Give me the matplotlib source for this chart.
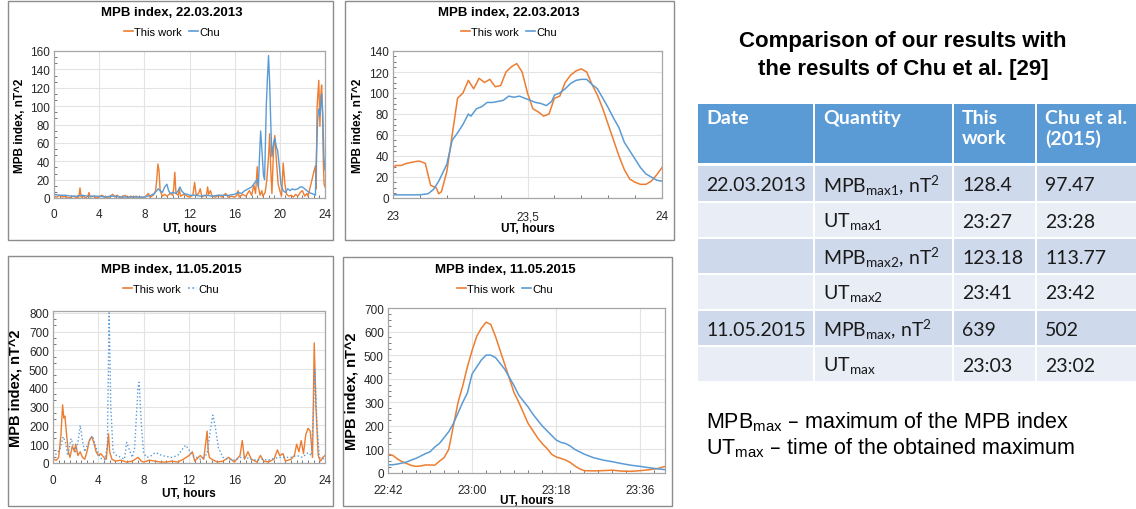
import matplotlib
matplotlib.use("Agg")
import matplotlib.pyplot as plt
from matplotlib.patches import Rectangle
from matplotlib.ticker import MultipleLocator, FuncFormatter, FixedLocator
from matplotlib.lines import Line2D

plt.rcParams['font.family'] = ['Liberation Sans', 'DejaVu Sans']

ORANGE = '#ED7D31'
BLUE = '#5B9BD5'

# ---------------- data ----------------
# Panel 1: 22.03.2013, full day (hours)
p1_this_t = [0.0, 0.25, 0.5, 0.75, 1.0, 1.25, 1.5, 1.75, 2.0, 2.2, 2.3, 2.4, 2.6, 2.8, 3.0, 3.1, 3.2, 3.5, 3.75, 4.0,
             4.25, 4.5, 4.75, 5.0, 5.2, 5.4, 5.6, 5.8, 6.0, 6.3, 6.5, 6.8, 7.0, 7.3, 7.5, 7.8, 8.0, 8.2, 8.35, 8.5,
             8.8, 9.0, 9.1, 9.2, 9.3, 9.4, 9.6, 9.8, 10.0, 10.3, 10.5, 10.6, 10.7, 10.8, 11.0, 11.1, 11.2, 11.5, 11.8,
             12.0, 12.3, 12.45, 12.6, 12.8, 12.95, 13.1, 13.3, 13.5, 13.6, 13.7, 13.85, 14.0, 14.3, 14.6, 14.9, 15.2,
             15.4, 15.7, 16.0, 16.2, 16.3, 16.4, 16.7, 17.0, 17.3, 17.5, 17.7, 17.85, 18.0, 18.1, 18.25, 18.4, 18.5,
             18.7, 18.85, 19.0, 19.1, 19.2, 19.3, 19.45, 19.55, 19.7, 19.85, 20.0, 20.15, 20.3, 20.45, 20.6, 20.8,
             21.0, 21.2, 21.4, 21.6, 21.8, 22.0, 22.2, 22.4, 22.5, 22.7, 22.85, 23.0, 23.15, 23.22, 23.3, 23.38,
             23.45, 23.55, 23.62, 23.7, 23.78, 23.85, 23.92, 24.0]
p1_this_v = [2, 1, 3, 1, 2, 0, 1, 2, 0, 1, 11, 1, 2, 0, 2, 6, 1, 2, 0, 1,
             3, 1, 0, 2, 4, 1, 3, 0, 1, 3, 0, 2, 1, 2, 0, 1, 0, 3, 5, 1,
             3, 8, 20, 37, 30, 8, 2, 4, 2, 5, 3, 10, 28, 5, 3, 10, 2, 4, 2,
             1, 3, 17, 3, 5, 10, 1, 3, 2, 12, 4, 8, 2, 1, 3, 1, 5,
             1, 2, 1, 3, 8, 1, 4, 2, 8, 3, 14, 5, 34, 12, 3, 8, 2,
             6, 20, 45, 70, 30, 5, 55, 68, 40, 15, 8, 2, 38, 15, 4, 2,
             3, 1, 4, 2, 6, 8, 2, 5, 2, 12, 20, 28, 35, 10, 100,
             115, 128, 78, 110, 123, 95, 40, 15, 12]
p1_chu_t = [0.0, 0.5, 1.0, 1.5, 2.0, 2.5, 3.0, 3.5, 4.0, 4.5, 5.0, 5.5, 6.0, 6.5, 7.0, 7.5, 8.0, 8.3, 8.6, 8.9,
            9.1, 9.25, 9.4, 9.6, 9.8, 10.0, 10.15, 10.3, 10.5, 10.8, 11.0, 11.15, 11.3, 11.5, 11.8, 12.0, 12.5,
            13.0, 13.5, 14.0, 14.5, 15.0, 15.5, 16.0, 16.3, 16.6, 16.9, 17.2, 17.5, 17.8, 18.0, 18.1, 18.2, 18.3,
            18.4, 18.55, 18.65, 18.8, 18.9, 19.0, 19.1, 19.2, 19.3, 19.45, 19.55, 19.7, 19.8, 19.95, 20.1, 20.3,
            20.5, 20.7, 20.9, 21.1, 21.3, 21.6, 21.8, 22.0, 22.2, 22.4, 22.6, 22.8, 23.0, 23.15, 23.25, 23.35,
            23.45, 23.55, 23.65, 23.7, 23.8, 23.9, 24.0]
p1_chu_v = [4, 3, 3, 2, 2, 3, 2, 2, 2, 1, 2, 2, 1, 1, 1, 1, 1, 2, 3, 5,
            8, 10, 8, 6, 12, 15, 8, 5, 6, 5, 8, 12, 8, 5, 4, 3, 3,
            2, 3, 2, 3, 3, 3, 4, 6, 5, 8, 10, 12, 17, 20, 12, 45, 73,
            55, 25, 20, 100, 130, 155, 125, 80, 45, 60, 65, 55, 52, 35, 15, 8,
            6, 10, 8, 10, 9, 10, 12, 12, 10, 8, 6, 5, 4, 3, 50, 85,
            97, 90, 105, 113, 90, 45, 30]

# Panel 2: 22.03.2013, 23-24 UT (hours)
p2_this_t = [23.00, 23.01, 23.03, 23.05, 23.07, 23.09, 23.10, 23.12, 23.14, 23.16, 23.17, 23.18, 23.20, 23.22,
             23.24, 23.26, 23.28, 23.30, 23.32, 23.34, 23.36, 23.38, 23.40, 23.42, 23.44, 23.46, 23.48, 23.50,
             23.52, 23.54, 23.56, 23.58, 23.60, 23.62, 23.64, 23.66, 23.68, 23.70, 23.72, 23.74, 23.76, 23.78,
             23.80, 23.82, 23.84, 23.86, 23.88, 23.90, 23.92, 23.94, 23.96, 23.98, 24.00]
p2_this_v = [28, 31, 31, 33, 34, 35, 35, 33, 12, 10, 4, 6, 25, 60,
             95, 100, 112, 104, 114, 110, 113, 106, 107, 120, 125, 128, 120, 100,
             85, 82, 78, 80, 95, 97, 110, 117, 121, 123, 120, 108, 98, 85,
             70, 55, 40, 27, 18, 15, 13, 13, 16, 22, 29]
p2_chu_t = [23.00, 23.05, 23.10, 23.13, 23.15, 23.17, 23.20, 23.22, 23.24, 23.26, 23.28, 23.29, 23.31, 23.33,
            23.35, 23.37, 23.39, 23.41, 23.43, 23.45, 23.47, 23.49, 23.51, 23.53, 23.55, 23.57, 23.59, 23.60,
            23.62, 23.64, 23.66, 23.68, 23.70, 23.72, 23.74, 23.76, 23.78, 23.80, 23.82, 23.84, 23.86, 23.88,
            23.90, 23.92, 23.94, 23.96, 23.98, 24.00]
p2_chu_v = [3, 3, 3, 4, 8, 16, 32, 55, 62, 70, 80, 78, 85, 87,
            91, 91, 92, 93, 97, 96, 97, 95, 93, 91, 90, 88, 92, 98,
            100, 104, 109, 112, 113, 113, 108, 104, 95, 86, 76, 67, 53, 45,
            37, 29, 23, 20, 17, 16]

# Panel 3: 11.05.2015, full day (hours)
p3_this_t = [0.0, 0.3, 0.5, 0.7, 0.85, 0.95, 1.05, 1.2, 1.35, 1.5, 1.7, 1.9, 2.0, 2.2, 2.4, 2.6, 2.8, 3.0, 3.2,
             3.4, 3.6, 3.8, 4.0, 4.2, 4.5, 4.7, 4.9, 5.0, 5.2, 5.5, 6.0, 6.5, 7.0, 7.5, 7.8, 8.0, 8.5, 9.0, 9.5,
             10.0, 10.5, 11.0, 11.5, 12.0, 12.3, 12.5, 13.0, 13.3, 13.6, 13.7, 13.8, 14.0, 14.5, 15.0, 15.5,
             16.0, 16.5, 16.7, 16.9, 17.2, 17.5, 18.0, 18.3, 18.6, 19.0, 19.5, 19.8, 20.0, 20.3, 20.5, 21.0,
             21.3, 21.5, 21.7, 21.9, 22.1, 22.3, 22.5, 22.7, 22.9, 23.05, 23.2, 23.4, 23.6, 23.8, 24.0]
p3_this_v = [20, 15, 30, 150, 310, 240, 250, 150, 60, 30, 90, 60, 100, 40, 60, 30, 20, 60, 120,
             140, 110, 60, 40, 50, 30, 20, 155, 60, 20, 10, 15, 5, 10, 30, 10, 5, 15, 10, 5,
             5, 10, 5, 20, 40, 60, 10, 40, 20, 170, 60, 30, 20, 5, 10, 30,
             5, 40, 120, 20, 60, 20, 5, 40, 10, 5, 20, 70, 40, 50, 10, 20,
             40, 100, 60, 120, 50, 150, 185, 170, 30, 640, 300, 40, 10, 30, 40]
p3_chu_t = [0.0, 0.3, 0.6, 0.9, 1.1, 1.3, 1.6, 1.8, 2.0, 2.2, 2.4, 2.6, 2.8, 3.0, 3.3, 3.5, 3.7, 4.0, 4.3, 4.6,
            4.8, 4.95, 5.1, 5.3, 5.6, 6.0, 6.3, 6.5, 6.8, 7.0, 7.2, 7.5, 7.6, 7.8, 8.0, 8.3, 8.7, 9.0, 9.3, 9.6,
            10.0, 10.5, 11.0, 11.5, 11.7, 12.0, 12.3, 12.7, 13.0, 13.3, 13.6, 13.9, 14.1, 14.3, 14.6, 15.0,
            15.5, 16.0, 16.5, 17.0, 17.5, 18.0, 18.5, 19.0, 19.5, 20.0, 20.5, 21.0, 21.5, 22.0, 22.5, 22.8,
            23.0, 23.1, 23.3, 23.5, 24.0]
p3_chu_v = [30, 50, 70, 140, 110, 40, 130, 90, 60, 110, 200, 120, 60, 90, 130, 145, 100, 50, 20, 20,
            100, 800, 300, 60, 40, 30, 20, 110, 60, 30, 80, 400, 430, 200, 50, 30, 40, 55, 50, 40,
            35, 30, 40, 80, 95, 70, 40, 30, 20, 30, 50, 180, 255, 200, 80, 30,
            20, 15, 30, 30, 20, 15, 20, 15, 25, 30, 30, 30, 40, 30, 55, 40,
            300, 500, 200, 30, 20]

# Panel 4: 11.05.2015, minutes after 22:00
p4_this_m = [42, 43, 44, 45, 46, 47, 48, 49, 50, 51, 52, 53, 54, 55, 56, 57, 58, 59, 60, 61, 62, 63, 64, 65, 66,
             67, 68, 69, 70, 71, 72, 73, 74, 75, 76, 77, 78, 79, 80, 81, 82, 83, 84, 86, 88, 90, 92, 94, 96, 98,
             100, 101.3]
p4_this_v = [80, 75, 60, 48, 40, 32, 28, 30, 34, 34, 33, 50, 65, 100, 200, 300, 370, 450, 520, 580, 615, 640,
             630, 580, 520, 460, 400, 340, 300, 255, 210, 180, 150, 125, 105, 80, 68, 62, 55, 45, 30, 18, 10,
             9, 10, 12, 8, 7, 10, 14, 20, 28]
p4_chu_m = [42, 43, 44, 45, 46, 47, 48, 49, 50, 51, 52, 53, 54, 55, 56, 57, 58, 59, 60, 61, 62, 63, 64, 65, 66,
            67, 68, 69, 70, 71, 72, 73, 74, 75, 76, 77, 78, 79, 80, 81, 82, 84, 86, 88, 90, 92, 94, 96, 98, 100,
            101.3]
p4_chu_v = [35, 35, 38, 42, 47, 55, 62, 72, 82, 90, 110, 125, 150, 175, 210, 255, 300, 340, 420, 450, 480, 500,
            500, 490, 465, 440, 405, 370, 330, 305, 280, 250, 225, 200, 180, 160, 140, 130, 125, 115, 100, 80,
            65, 55, 48, 40, 33, 28, 22, 17, 14]

# Table
tbl_header = ['Date', 'Quantity', 'This\nwork', 'Chu et al.\n(2015)']
tbl_date = ['22.03.2013', '', '', '', '11.05.2015', '']
tbl_qty = [r'MPB$\mathregular{_{max1}}$, nT$\mathregular{^{2}}$', r'UT$\mathregular{_{max1}}$',
           r'MPB$\mathregular{_{max2}}$, nT$\mathregular{^{2}}$', r'UT$\mathregular{_{max2}}$',
           r'MPB$\mathregular{_{max}}$, nT$\mathregular{^{2}}$', r'UT$\mathregular{_{max}}$']
tbl_this = ['128.4', '23:27', '123.18', '23:41', '639', '23:03']
tbl_chu = ['97.47', '23:28', '113.77', '23:42', '502', '23:02']

# ---------------- figure ----------------
W, H = 1136, 510
fig = plt.figure(figsize=(W / 100, H / 100), dpi=100)


def fx(px):
    return px / W


def fy(py):
    return 1 - py / H


def add_ax(x0, y0, x1, y1):
    return fig.add_axes([fx(x0), fy(y1), (x1 - x0) / W, (y1 - y0) / H])


def frame(x0, y0, x1, y1):
    fig.add_artist(Rectangle((fx(x0), fy(y1)), (x1 - x0) / W, (y1 - y0) / H, transform=fig.transFigure,
                             facecolor='none', edgecolor='#8c8c8c', lw=1.0))


def style(ax, xpad=7):
    for s in ax.spines.values():
        s.set_color('#a6a6a6')
        s.set_linewidth(0.9)
    ax.grid(True, which='major', color='#e3e3e3', lw=0.8)
    ax.set_axisbelow(True)
    ax.tick_params(which='major', length=0, labelsize=8.5, colors='#262626', pad=3)
    ax.tick_params(axis='x', which='major', pad=xpad)
    ax.tick_params(which='minor', length=2.5, direction='in', color='#606060', width=0.6)


def panel_text(xc, y_title, y_leg, title, ax, x_ylab, y_xlab, chu_ls='-', ylab_fs=8.5):
    fig.text(fx(xc), fy(y_title), title, ha='center', va='center', fontsize=9.5, fontweight='bold')
    handles = [Line2D([], [], color=ORANGE, lw=1.2), Line2D([], [], color=BLUE, lw=1.2, ls=chu_ls)]
    fig.legend(handles, ['This work', 'Chu'], loc='center', bbox_to_anchor=(fx(xc), fy(y_leg)), ncol=2,
               frameon=False, fontsize=8, handlelength=0.8, handletextpad=0.1, columnspacing=0.6,
               borderpad=0, borderaxespad=0)
    bb = ax.get_position()
    fig.text(fx(x_ylab), (bb.y0 + bb.y1) / 2, 'MPB index, nT^2', rotation=90, ha='center', va='center',
             fontsize=ylab_fs, fontweight='bold')
    fig.text((bb.x0 + bb.x1) / 2, fy(y_xlab), 'UT, hours', ha='center', va='center', fontsize=8.5,
             fontweight='bold')


# Panel 1
frame(8, 2, 333, 241)
ax1 = add_ax(54, 52, 325, 199)
ax1.plot(p1_this_t, p1_this_v, color=ORANGE, lw=1.0)
ax1.plot(p1_chu_t, p1_chu_v, color=BLUE, lw=1.0)
ax1.set_xlim(0, 24)
ax1.set_ylim(0, 160)
ax1.xaxis.set_major_locator(MultipleLocator(4))
ax1.yaxis.set_major_locator(MultipleLocator(20))
ax1.xaxis.set_minor_locator(MultipleLocator(0.5))
ax1.yaxis.set_minor_locator(MultipleLocator(20 / 3))
style(ax1)
panel_text(172, 13, 33, 'MPB index, 22.03.2013', ax1, 20, 229)

# Panel 2
frame(345, 2, 674, 241)
ax2 = add_ax(393, 52, 662, 199)
ax2.plot(p2_this_t, p2_this_v, color=ORANGE, lw=1.1)
ax2.plot(p2_chu_t, p2_chu_v, color=BLUE, lw=1.1)
ax2.set_xlim(23, 24)
ax2.set_ylim(0, 140)
ax2.xaxis.set_major_locator(FixedLocator([23, 23.5, 24]))
ax2.xaxis.set_major_formatter(FuncFormatter(lambda v, p: ('%g' % v).replace('.', ',')))
ax2.yaxis.set_major_locator(MultipleLocator(20))
ax2.xaxis.set_minor_locator(MultipleLocator(0.1))
ax2.yaxis.set_minor_locator(MultipleLocator(5))
style(ax2, xpad=9)
panel_text(509, 13, 33, 'MPB index, 22.03.2013', ax2, 358, 229)

# Panel 3
frame(8, 257, 333, 507)
ax3 = add_ax(53, 312, 325, 464)
ax3.plot(p3_this_t, p3_this_v, color=ORANGE, lw=1.0)
ax3.plot(p3_chu_t, p3_chu_v, color=BLUE, lw=1.0, ls=':')
ax3.set_xlim(0, 24)
ax3.set_ylim(0, 810)
ax3.xaxis.set_major_locator(MultipleLocator(4))
ax3.yaxis.set_major_locator(MultipleLocator(100))
ax3.xaxis.set_minor_locator(MultipleLocator(0.5))
ax3.yaxis.set_minor_locator(MultipleLocator(100 / 3))
style(ax3, xpad=8)
panel_text(171, 270, 290, 'MPB index, 11.05.2015', ax3, 16, 494, chu_ls=':', ylab_fs=10.5)

# Panel 4
frame(343, 258, 672, 507)
ax4 = add_ax(388, 309, 665, 474)
ax4.plot(p4_this_m, p4_this_v, color=ORANGE, lw=1.1)
ax4.plot(p4_chu_m, p4_chu_v, color=BLUE, lw=1.1)
ax4.set_xlim(42, 101.3)
ax4.set_ylim(0, 700)
ax4.xaxis.set_major_locator(FixedLocator([42, 60, 78, 96]))
ax4.xaxis.set_major_formatter(FuncFormatter(lambda v, p: '%d:%02d' % (22 + int(round(v)) // 60, int(round(v)) % 60)))
ax4.yaxis.set_major_locator(MultipleLocator(100))
ax4.xaxis.set_minor_locator(MultipleLocator(3))
ax4.yaxis.set_minor_locator(MultipleLocator(25))
style(ax4, xpad=8)
panel_text(505, 270, 290, 'MPB index, 11.05.2015', ax4, 352, 501, ylab_fs=10.5)

# ---------------- right side: title, table, notes ----------------
fig.text(fx(903), fy(41), 'Comparison of our results with', ha='center', va='center', fontsize=16,
         fontweight='bold')
fig.text(fx(903), fy(69), 'the results of Chu et al. [29]', ha='center', va='center', fontsize=16,
         fontweight='bold')

col_edges = [697, 814, 953, 1036, 1137]
row_edges = [(105, 164), (167, 202), (204, 238), (240, 274), (276, 310), (312, 346), (348, 382)]
HEAD = '#5B9BD5'
ROW_DARK = '#CFD9EC'
ROW_LIGHT = '#E9EDF6'
TFONT = ['Lato', 'DejaVu Sans']

for ri, (r0, r1) in enumerate(row_edges):
    color = HEAD if ri == 0 else (ROW_DARK if ri % 2 == 1 else ROW_LIGHT)
    for ci in range(4):
        c0, c1 = col_edges[ci], col_edges[ci + 1]
        fig.add_artist(Rectangle((fx(c0 + 1), fy(r1)), (c1 - c0 - 2) / W, (r1 - r0) / H,
                                 transform=fig.transFigure, facecolor=color, edgecolor='none'))

for ci, txt in enumerate(tbl_header):
    fig.text(fx(col_edges[ci] + 9), fy(110), txt, ha='left', va='top', fontsize=14, fontweight='bold',
             color='white', family=TFONT, linespacing=1.2)

cols = [tbl_date, tbl_qty, tbl_this, tbl_chu]
for ri in range(6):
    r0, r1 = row_edges[ri + 1]
    yc = (r0 + r1) / 2
    for ci in range(4):
        fig.text(fx(col_edges[ci] + 9), fy(yc + 1), cols[ci][ri], ha='left', va='center', fontsize=14,
                 color='#1a1a1a', family=TFONT)

fig.text(fx(706), fy(422), r'MPB$\mathregular{_{max}}$ – maximum of the MPB index', ha='left', va='center',
         fontsize=15.5)
fig.text(fx(706), fy(448), r'UT$\mathregular{_{max}}$ – time of the obtained maximum', ha='left', va='center',
         fontsize=15.5)

fig.savefig('out.png', dpi=100)
